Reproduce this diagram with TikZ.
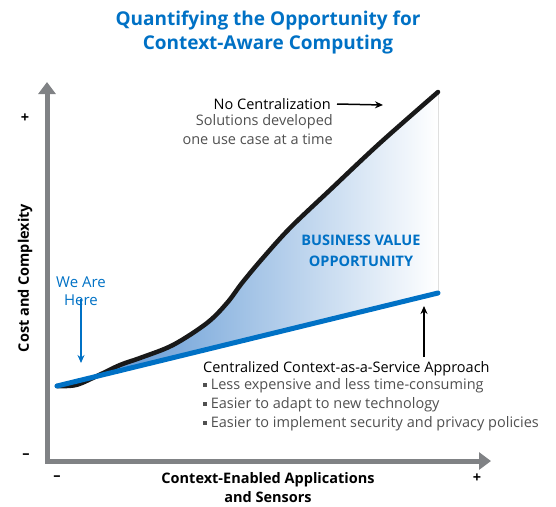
\documentclass[tikz,border=0pt]{standalone}
\usepackage{fontspec}
\setmainfont{Open Sans}
\usepackage{tikz}
\usetikzlibrary{positioning, arrows.meta}
\definecolor{intelblue}{RGB}{0,113,197}
\definecolor{axisgray}{RGB}{128,130,133}
\definecolor{textgray}{RGB}{80,80,80}
\definecolor{shadeblue}{RGB}{70,135,205}
\tikzstyle{lbl}=[inner sep=0pt, font=\fontsize{14.5}{19}\selectfont]
\tikzstyle{axlbl}=[inner sep=0pt, font=\bfseries\fontsize{14.5}{19}\selectfont]
\tikzstyle{ttl}=[inner sep=0pt, align=center, text=intelblue, font=\bfseries\fontsize{19}{24}\selectfont]
\tikzstyle{bluelbl}=[inner sep=0pt, align=center, text=intelblue, font=\fontsize{15}{18.5}\selectfont]
\tikzset{>={Stealth[length=8pt, width=7pt]}}
\newcommand{\sqbullet}{\raisebox{0.3ex}{\rule{3.8pt}{3.8pt}}\ }

\begin{document}
\begin{tikzpicture}[x=1pt, y=-1pt]
\useasboundingbox (0,0) rectangle (556,506);
% the title
\node[ttl] (title) at (268,33) {Quantifying the Opportunity for\\Context-Aware Computing};
% the axes
\coordinate (O) at (47,461);
\coordinate (ytip) at (47,82);
\coordinate (xtip) at (491,461);
\draw[axisgray, line width=5pt, line join=miter, {Triangle[width=17pt,length=12pt]}-{Triangle[width=17pt,length=12pt]}] (ytip) -- (O) -- (xtip);
\node[axlbl] (yplus) at (25,118) {+};
\node[axlbl] (yminus) at (26,456) {--};
\node[axlbl] (xminus) at (57,478) {--};
\node[axlbl] (xplus) at (477,478) {+};
\node[axlbl, rotate=90] (ylabel) at (25,278) {Cost and Complexity};
\node[axlbl, align=center] (xlabel) at (268,488) {Context-Enabled Applications\\and Sensors};
% the opportunity area between the two curves
\coordinate (start) at (57,386);
\coordinate (noend) at (438,92);
\coordinate (caasend) at (438,293);
\fill[left color=shadeblue, right color=white] plot[smooth, tension=0.55] coordinates {(57,386) (76,385) (97,376) (120,365) (140,358) (173,345) (207,323) (227,303) (242,283) (262,259) (290,228) (330,190) (380,143) (438,92)} -- (caasend) -- cycle;
% the two curves
\draw[black!90, line width=4.5pt, line cap=round] plot[smooth, tension=0.55] coordinates {(57,386) (76,385) (97,376) (120,365) (140,358) (173,345) (207,323) (227,303) (242,283) (262,259) (290,228) (330,190) (380,143) (438,92)};
\draw[intelblue, line width=5pt, line cap=round] (start) -- (caasend);
% the labels
\node[ttl, font=\bfseries\fontsize{14.5}{21}\selectfont] (bizvalue) at (361,251) {BUSINESS VALUE\\OPPORTUNITY};
\node[bluelbl] (here) at (81,291) {We Are\\Here};
\coordinate (herept) at (81,363);
\draw[->, intelblue, line width=1.5pt] ([yshift=7pt]here.south) -- (herept);
\node[lbl, anchor=east] (nocent) at (331,104) {No Centralization};
\node[lbl, text=textgray, align=right, anchor=north east] (nocentsub) at (333,114) {Solutions developed\\one use case at a time};
\coordinate (nocentpt) at (383,105);
\draw[->, line width=1.5pt] ([xshift=6pt]nocent.east) -- (nocentpt);
\node[lbl, anchor=west] (caas) at (203,369) {Centralized Context-as-a-Service Approach};
\node[lbl, text=textgray, align=left, anchor=north west] (caassub) at (203,378) {\sqbullet Less expensive and less time-consuming\\\sqbullet Easier to adapt to new technology\\\sqbullet Easier to implement security and privacy policies};
\coordinate (caasbase) at (424,357);
\coordinate (caaspt) at (424,306);
\draw[->, line width=1.5pt] (caasbase) -- (caaspt);
\end{tikzpicture}
\end{document}
